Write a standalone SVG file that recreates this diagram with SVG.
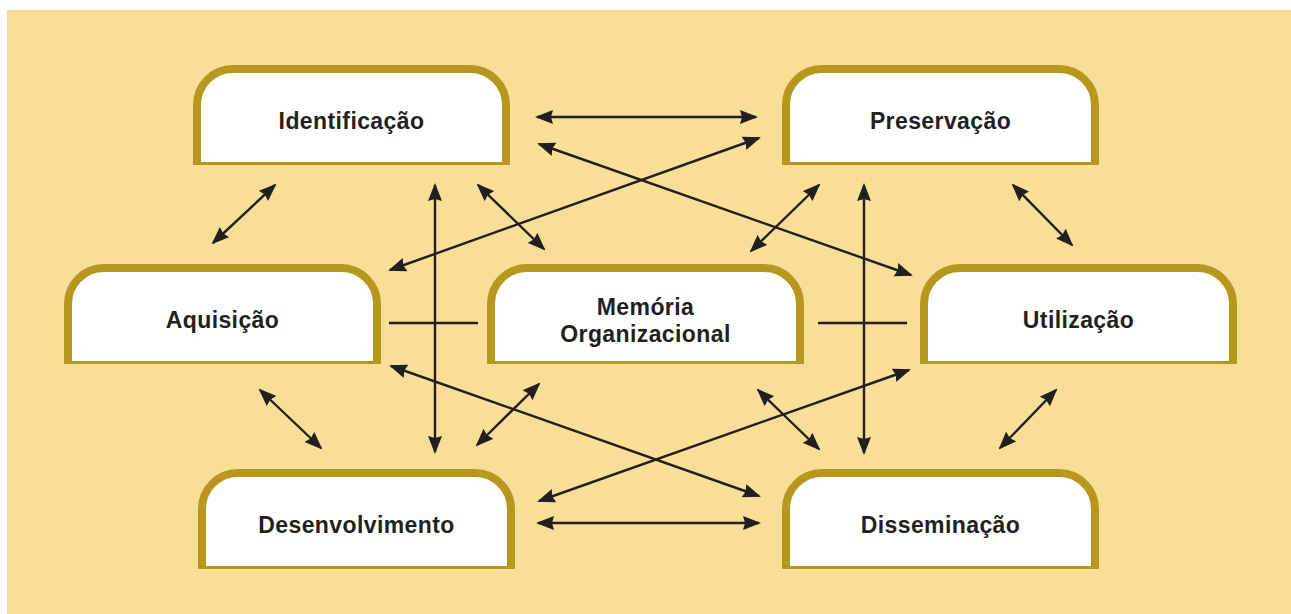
<svg xmlns="http://www.w3.org/2000/svg" width="1291" height="614" viewBox="0 0 1291 614">
  <style>
    .frame { fill: #ffffff; stroke: #b8971e; stroke-width: 8; }
    .base { fill: #b8971e; }
    .label { font-family: "Liberation Sans", Arial, Helvetica, sans-serif; font-weight: bold; font-size: 23px; letter-spacing: 0.4px; fill: #231f20; text-anchor: middle; }
    .link { stroke: #231f20; stroke-width: 2.4; fill: none; }
    .arrow { marker-start: url(#head); marker-end: url(#head); }
  </style>
  <defs>
    <marker id="head" viewBox="0 0 18 14" markerWidth="18" markerHeight="14" refX="16" refY="7" orient="auto-start-reverse" markerUnits="userSpaceOnUse">
      <path d="M0,0 L18,7 L0,14 L2,7 Z" fill="#231f20"/>
    </marker>
    <!-- rounded-top tab shape, 317 x 100 -->
    <g id="tab">
      <path class="frame" d="M4,98 V40 A36,36 0 0 1 40,4 H277 A36,36 0 0 1 313,40 V98"/>
      <rect class="base" x="0" y="97" width="317" height="3"/>
    </g>
  </defs>

  <!-- background panel -->
  <rect x="7" y="10" width="1284" height="604" fill="#f9de97"/>

  <!-- connectors -->
  <g id="connectors">
    <line class="link arrow" x1="537" y1="117" x2="756" y2="117"/>
    <line class="link arrow" x1="539" y1="144" x2="911" y2="275"/>
    <line class="link arrow" x1="759" y1="138" x2="390" y2="270"/>
    <line class="link arrow" x1="275" y1="185" x2="213" y2="243"/>
    <line class="link arrow" x1="435" y1="185" x2="435" y2="452"/>
    <line class="link arrow" x1="478" y1="185" x2="544" y2="249"/>
    <line class="link arrow" x1="819" y1="185" x2="751" y2="251"/>
    <line class="link arrow" x1="864" y1="185" x2="864" y2="453"/>
    <line class="link arrow" x1="1013" y1="185" x2="1072" y2="245"/>
    <line class="link" x1="389" y1="323" x2="478" y2="323"/>
    <line class="link" x1="818" y1="323" x2="907" y2="323"/>
    <line class="link arrow" x1="391" y1="366" x2="759" y2="496"/>
    <line class="link arrow" x1="909" y1="370" x2="539" y2="501"/>
    <line class="link arrow" x1="260" y1="390" x2="321" y2="448"/>
    <line class="link arrow" x1="539" y1="384" x2="477" y2="445"/>
    <line class="link arrow" x1="758" y1="390" x2="819" y2="449"/>
    <line class="link arrow" x1="1056" y1="390" x2="1000" y2="448"/>
    <line class="link arrow" x1="538" y1="523" x2="759" y2="523"/>
  </g>

  <!-- nodes -->
  <g id="identificacao" transform="translate(193,65)">
    <use href="#tab"/>
    <text class="label" x="158.5" y="64">Identificação</text>
  </g>
  <g id="preservacao" transform="translate(782,65)">
    <use href="#tab"/>
    <text class="label" x="158.5" y="64">Preservação</text>
  </g>
  <g id="aquisicao" transform="translate(64,264)">
    <use href="#tab"/>
    <text class="label" x="158.5" y="64">Aquisição</text>
  </g>
  <g id="memoria" transform="translate(487,264)">
    <use href="#tab"/>
    <text class="label" x="158.5" y="51">Memória</text>
    <text class="label" x="158.5" y="78">Organizacional</text>
  </g>
  <g id="utilizacao" transform="translate(920,264)">
    <use href="#tab"/>
    <text class="label" x="158.5" y="64">Utilização</text>
  </g>
  <g id="desenvolvimento" transform="translate(198,469)">
    <use href="#tab"/>
    <text class="label" x="158.5" y="64">Desenvolvimento</text>
  </g>
  <g id="disseminacao" transform="translate(782,469)">
    <use href="#tab"/>
    <text class="label" x="158.5" y="64">Disseminação</text>
  </g>
</svg>
